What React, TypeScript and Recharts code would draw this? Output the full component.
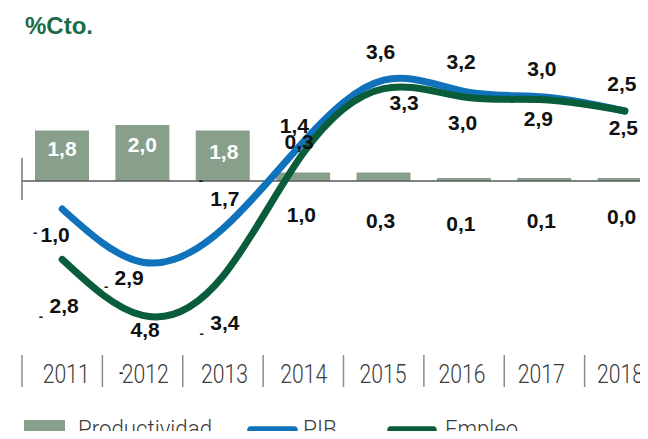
import {
  ComposedChart,
  Bar,
  Line,
  XAxis,
  YAxis,
  ReferenceLine,
  LabelList,
} from "recharts";

const YEARS = ["2011", "2012", "2013", "2014", "2015", "2016", "2017", "2018"];
const PRODUCTIVIDAD = [1.8, 2.0, 1.8, 0.3, 0.3, 0.1, 0.1, 0.0];
const PIB = [-1.0, -2.9, -1.7, 1.4, 3.6, 3.2, 3.0, 2.5];
const EMPLEO = [-2.8, -4.8, -3.4, 1.0, 3.3, 3.0, 2.9, 2.5];

// label placement in px, from the point (lines) or from the bar base (bars)
const PIB_LABEL_POS = [
  [-7, 25], [-13.5, 15], [2, -30], [-9, -16],
  [-3, -29], [-3, -29.5], [-2.5, -29], [-3, -28],
];
const PIB_DASH_POS = [[-27, 23], [-36.5, 24], [-22, -48.5]];
const EMPLEO_LABEL_POS = [
  [2, 46], [2.5, 14], [2, 46], [-2, 61],
  [20.5, 13.5], [-1.5, 25], [-6, 19], [-1.5, 16.5],
];
const EMPLEO_DASH_POS = [-21.3, 57.3];
const PROD_LABEL_POS = [
  [0, -33], [0, -36.5], [1, -30], [-4, -39.5],
  [-3, 39], [-3, 42.5], [-3, 39], [-3, 35.5],
];

const BAR_COLOR = "#88a08b";
const PIB_COLOR = "#1172bc";
const EMPLEO_COLOR = "#0a5d3a";
const TITLE_COLOR = "#1c6b47";
const TEXT_DARK = "#111";
const TEXT_GREY = "#3c3c3c";

const CHART_W = 665;
const LEFT = 22;
const BAND = (CHART_W - LEFT) / YEARS.length;
const LABEL_FONT = "'Liberation Sans', Arial, sans-serif";
const LIGHT_FONT = "Roboto, 'Liberation Sans', sans-serif";

const data = YEARS.map((year, i) => ({
  year,
  productividad: PRODUCTIVIDAD[i],
  pib: PIB[i],
  empleo: EMPLEO[i],
}));

const fmt = (v: number) => Math.abs(v).toFixed(1).replace(".", ",");

function makeLabel(
  pos: number[][],
  dashPos: (i: number) => number[] | undefined,
  colorOf: (i: number) => string,
  fromBase: boolean
) {
  return (props: any) => {
    const vb = props.viewBox ?? {};
    const x = Number(props.x ?? vb.x);
    const y = Number(props.y ?? vb.y);
    const w = Number(props.width ?? vb.width) || 0;
    const h = Number(props.height ?? vb.height) || 0;
    const v = Number(props.value);
    const cx = x + w / 2;
    const cy = fromBase ? y + h : y;
    const idx =
      typeof props.index === "number"
        ? props.index
        : Math.round((cx - LEFT - BAND / 2) / BAND);
    const [dx, dy] = pos[idx] ?? [0, 0];
    const dash = v < 0 ? dashPos(idx) : undefined;
    return (
      <g>
        {dash && (
          <text
            x={cx + dash[0]}
            y={cy + dash[1]}
            textAnchor="middle"
            dominantBaseline="central"
            fontFamily={LABEL_FONT}
            fontWeight="bold"
            fontSize={13}
            fill={TEXT_DARK}
          >
            -
          </text>
        )}
        <text
          x={cx + dx}
          y={cy + dy}
          textAnchor="middle"
          dominantBaseline="central"
          fontFamily={LABEL_FONT}
          fontWeight="bold"
          fontSize={21}
          fill={colorOf(idx)}
        >
          {fmt(v)}
        </text>
      </g>
    );
  };
}

const pibLabel = makeLabel(PIB_LABEL_POS, (i) => PIB_DASH_POS[i], () => TEXT_DARK, false);
const empleoLabel = makeLabel(EMPLEO_LABEL_POS, () => EMPLEO_DASH_POS, () => TEXT_DARK, false);
const prodLabel = makeLabel(
  PROD_LABEL_POS,
  () => undefined,
  (i) => (i < 3 ? "#fff" : TEXT_DARK),
  true
);

const YearTick = (props: any) => {
  const { x, y, payload, index } = props;
  const left = x - BAND / 2;
  return (
    <g>
      <line x1={left} x2={left} y1={y + 6} y2={y + 38} stroke="#8c8c8c" strokeWidth={1.5} />
      <text
        x={x + 4 - index * 1.2}
        y={y + 34}
        textAnchor="middle"
        fontFamily={LIGHT_FONT}
        fontWeight={300}
        fontSize={25}
        fill={TEXT_GREY}
        textLength={47}
        lengthAdjust="spacingAndGlyphs"
      >
        {payload.value}
      </text>
    </g>
  );
};

const zeroLine = (props: any) => {
  const { x1, y1, x2, y2 } = props;
  return (
    <g>
      <line x1={x1} y1={y1} x2={x2} y2={y2} stroke="#5a5a5a" strokeWidth={1.5} />
      <line x1={x1} x2={x1} y1={y1 - 23} y2={y1 + 19} stroke="#777" strokeWidth={1.5} />
    </g>
  );
};

const legendText = {
  fontFamily: LIGHT_FONT,
  fontWeight: 300,
  fontSize: 23,
  fill: TEXT_GREY,
  lengthAdjust: "spacingAndGlyphs",
} as const;

function ChartLegend() {
  return (
    <svg
      width={648}
      height={27}
      style={{ position: "absolute", left: 0, top: 412, display: "block" }}
    >
      <rect x={24} y={8} width={41} height={22} fill={BAR_COLOR} />
      <text x={78} y={25} {...legendText} textLength={134}>
        Productividad
      </text>
      <line x1={251} x2={294} y1={18} y2={18} stroke={PIB_COLOR} strokeWidth={7.5} strokeLinecap="round" />
      <text x={303} y={25} {...legendText} textLength={34}>
        PIB
      </text>
      <line x1={391} x2={433} y1={18} y2={18} stroke={EMPLEO_COLOR} strokeWidth={7.5} strokeLinecap="round" />
      <text x={445} y={25} {...legendText} textLength={73}>
        Empleo
      </text>
    </svg>
  );
}

export default function App() {
  return (
    <div
      style={{
        position: "relative",
        width: 648,
        height: 439,
        overflow: "hidden",
        margin: -8,
        background: "#fff",
      }}
    >
      <div
        style={{
          position: "absolute",
          left: 25,
          top: 14,
          fontFamily: LABEL_FONT,
          fontWeight: "bold",
          fontSize: 24,
          lineHeight: "24px",
          color: TITLE_COLOR,
          zIndex: 2,
        }}
      >
        %Cto.
      </div>
      <ComposedChart
        width={CHART_W}
        height={439}
        data={data}
        margin={{ top: 41, right: 0, bottom: 60, left: LEFT }}
      >
        <XAxis
          dataKey="year"
          axisLine={false}
          tickLine={false}
          tickSize={0}
          tickMargin={0}
          height={30}
          interval={0}
          tick={<YearTick />}
        />
        <YAxis hide domain={[-6, 5]} />
        <Bar
          dataKey="productividad"
          name="Productividad"
          fill={BAR_COLOR}
          barSize={54}
          minPointSize={3}
          isAnimationActive={false}
        >
          <LabelList dataKey="productividad" content={prodLabel} />
        </Bar>
        <ReferenceLine y={0} shape={zeroLine} />
        <Line
          type="natural"
          dataKey="pib"
          name="PIB"
          stroke={PIB_COLOR}
          strokeWidth={7}
          strokeLinecap="round"
          dot={false}
          activeDot={false}
          isAnimationActive={false}
        >
          <LabelList dataKey="pib" content={pibLabel} />
        </Line>
        <Line
          type="natural"
          dataKey="empleo"
          name="Empleo"
          stroke={EMPLEO_COLOR}
          strokeWidth={7}
          strokeLinecap="round"
          dot={false}
          activeDot={false}
          isAnimationActive={false}
        >
          <LabelList dataKey="empleo" content={empleoLabel} />
        </Line>
      </ComposedChart>
      <ChartLegend />
    </div>
  );
}
